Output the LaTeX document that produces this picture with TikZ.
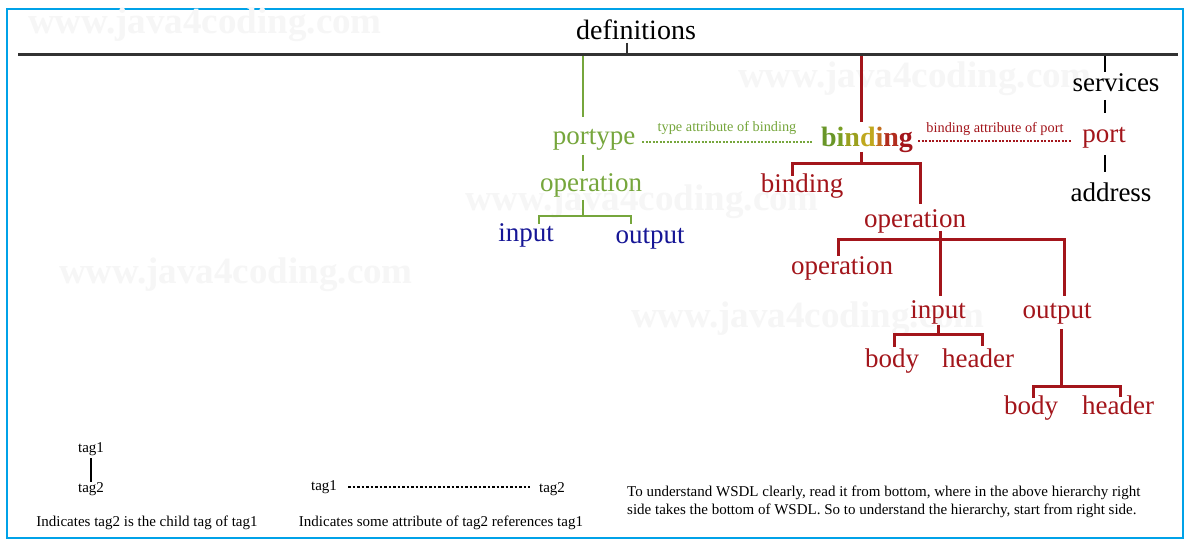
\documentclass[tikz,border=0pt]{standalone}
\usepackage{fontspec}
\setmainfont{Liberation Serif}
\definecolor{wgreen}{RGB}{118,166,60}
\definecolor{wred}{RGB}{163,21,27}
\definecolor{wblue}{RGB}{22,22,150}
\definecolor{wcyan}{RGB}{0,162,232}
\definecolor{wline}{RGB}{50,50,50}
\definecolor{wmark}{RGB}{246,246,246}
\definecolor{bA}{RGB}{105,150,40}
\definecolor{bB}{RGB}{120,158,36}
\definecolor{bC}{RGB}{155,160,30}
\definecolor{bD}{RGB}{192,168,30}
\definecolor{bE}{RGB}{195,110,30}
\definecolor{bF}{RGB}{178,45,30}
\definecolor{bG}{RGB}{163,21,27}
\tikzset{
  x=1pt, y=-1pt,
  big/.style={anchor=base, inner sep=0pt, font=\fontsize{27}{30}\selectfont},
  small/.style={anchor=base, inner sep=0pt, font=\fontsize{14.3}{16}\selectfont},
  note/.style={anchor=base, inner sep=0pt, font=\fontsize{15}{18}\selectfont},
  wmarktext/.style={anchor=base, inner sep=0pt, text=wmark, font=\fontsize{37}{40}\selectfont\bfseries},
  gline/.style={draw=wgreen, line width=2pt},
  rline/.style={draw=wred, line width=3pt},
  kline/.style={draw=black, line width=2.5pt},
  gdots/.style={draw=wgreen, line width=2.5pt, dash pattern=on 2pt off 1.5pt},
  rdots/.style={draw=wred, line width=2.5pt, dash pattern=on 2pt off 1.5pt},
  kdots/.style={draw=black, line width=2.5pt, dash pattern=on 2.5pt off 2pt},
}
\begin{document}
\begin{tikzpicture}
\useasboundingbox (0,0) rectangle (1195,545);
\fill[white] (0,0) rectangle (1195,545);
\draw[wcyan, line width=2pt] (7,9) rectangle (1183,538);
% watermarks
\node[wmarktext] (wm1) at (205,34) {www.java4coding.com};
\node[wmarktext] (wm2) at (915,88) {www.java4coding.com};
\node[wmarktext] (wm3) at (642,211) {www.java4coding.com};
\node[wmarktext] (wm4) at (236,284) {www.java4coding.com};
\node[wmarktext] (wm5) at (808,328) {www.java4coding.com};
% root
\node[big, font=\fontsize{28}{30}\selectfont] (defs) at (636,40) {definitions};
\coordinate (topL) at (18,55);
\coordinate (topR) at (1178,55);
\draw[draw=wline, line width=3pt] (topL) -- (topR);
\coordinate (defT) at (627,55);
\coordinate (defB) at (627,43);
\draw[draw=wline, line width=2pt] (defB) -- (defT);
% portype branch
\coordinate (pgTop) at (583,56);
\node[big, text=wgreen] (portype) at (594,145) {portype};
\draw[gline] (pgTop) -- (583,117);
\node[big, text=wgreen] (opG) at (591,192) {operation};
\draw[gline] (583,155) -- (583,171);
\coordinate (jG) at (583,216);
\draw[gline] (583,200) -- (jG);
\node[big, text=wblue] (inG) at (526,242) {input};
\node[big, text=wblue] (outG) at (650,244) {output};
\draw[gline] (539,224) -- (539,216) -- (631,216) -- (631,224);
% dotted: portype -- binding
\node[small, text=wgreen] (lblT) at (727,132) {type attribute of binding};
\node[big, font=\fontsize{28}{30}\selectfont\bfseries] (bind) at (867,147)
  {\textcolor{bA}{b}\textcolor{bB}{i}\textcolor{bC}{n}\textcolor{bD}{d}\textcolor{bE}{i}\textcolor{bF}{n}\textcolor{bG}{g}};
\draw[gdots] (642,142) -- (813,142);
% binding branch
\coordinate (bTop) at (861,56);
\draw[rline] (bTop) -- (861,122);
\draw[rline] (861,152) -- (861,164);
\draw[rline] (792,176) -- (792,164) -- (920,164) -- (920,204);
\node[big, text=wred] (bindR) at (802,193) {binding};
\node[big, text=wred] (opR) at (915,228) {operation};
\draw[rline] (940,231) -- (940,296);
\draw[rline] (838,256) -- (838,240) -- (1064,240) -- (1064,296);
\node[big, text=wred] (opR2) at (842,275) {operation};
\node[big, text=wred] (inR) at (938,319) {input};
\node[big, text=wred] (outR) at (1057,319) {output};
\draw[rline] (938,325) -- (938,335);
\draw[rline] (894,347) -- (894,335) -- (982,335) -- (982,346);
\node[big, text=wred] (bodyA) at (892,368) {body};
\node[big, text=wred] (headA) at (978,368) {header};
\draw[rline] (1061,329) -- (1061,387);
\draw[rline] (1033,398) -- (1033,387) -- (1120,387) -- (1120,397);
\node[big, text=wred] (bodyB) at (1031,414) {body};
\node[big, text=wred] (headB) at (1118,414) {header};
% dotted: binding -- port
\node[small, text=wred] (lblB) at (995,133) {binding attribute of port};
\draw[rdots] (918,141) -- (1072,141);
% services branch
\node[big] (serv) at (1116,92) {services};
\node[big, text=wred] (port) at (1104,143) {port};
\node[big] (addr) at (1111,202) {address};
\draw[kline] (1105,56) -- (1105,72);
\draw[kline] (1105,100) -- (1105,113);
\draw[kline] (1105,155) -- (1105,172);
% legend
\node[note] (lt1) at (91,453) {tag1};
\node[note] (lt2) at (91,493) {tag2};
\draw[black, line width=1.2pt] (91,458) -- (91,482);
\node[note] (cap1) at (147,526) {Indicates tag2 is the child tag of tag1};
\node[note] (mt1) at (324,490) {tag1};
\node[note] (mt2) at (552,492) {tag2};
\draw[kdots] (348,487) -- (530,487);
\node[note] (cap2) at (441,526) {Indicates some attribute of tag2 references tag1};
\node[note, anchor=base west] (para1) at (627,496) {To understand WSDL clearly, read it from bottom, where in the above hierarchy right};
\node[note, anchor=base west] (para2) at (627,514) {side takes the bottom of WSDL. So to understand the hierarchy, start from right side.};
\end{tikzpicture}
\end{document}
